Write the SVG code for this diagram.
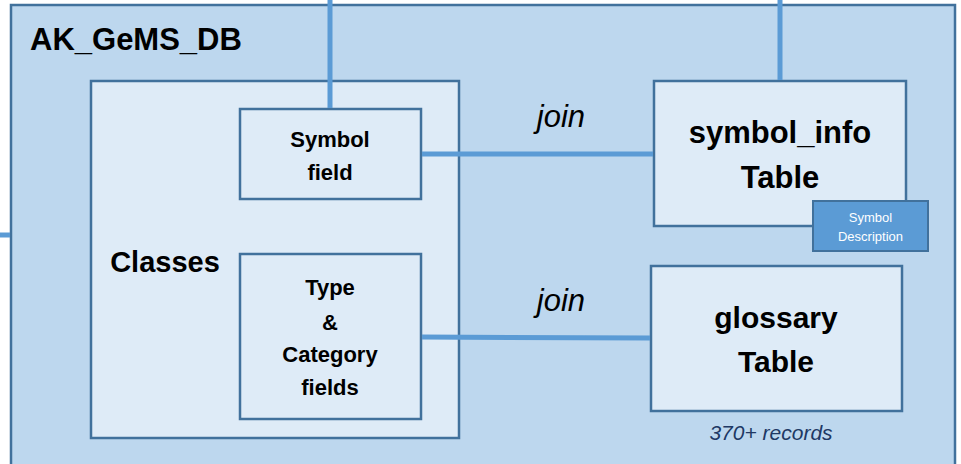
<svg xmlns="http://www.w3.org/2000/svg" width="961" height="464" viewBox="0 0 961 464">
<style>
.box{fill:#DEEBF7;stroke:#41719C;stroke-width:2.5}
.con{stroke:#5B9BD5;stroke-width:5;fill:none}
.b{font-family:"Liberation Sans",Arial,sans-serif;font-weight:bold;fill:#000;text-anchor:middle}
.i{font-family:"Liberation Sans",Arial,sans-serif;font-style:italic;text-anchor:middle}
</style>
<rect width="961" height="464" fill="#FFFFFF"/>
<g id="db">
<rect x="11" y="5" width="944" height="480" fill="#BDD7EE" stroke="#41719C" stroke-width="2.5"/>
<text x="30" y="50" class="b" style="text-anchor:start" font-size="31">AK_GeMS_DB</text>
</g>
<g id="classes">
<rect class="box" x="91" y="81" width="368" height="357"/>
<text x="165" y="272" class="b" font-size="29">Classes</text>
</g>
<g id="symbol-field">
<rect class="box" x="240" y="109" width="181" height="90"/>
<text x="330" y="147" class="b" font-size="22">Symbol</text>
<text x="330" y="180" class="b" font-size="22">field</text>
</g>
<g id="type-category">
<rect class="box" x="240" y="254" width="181" height="165"/>
<text x="330" y="295" class="b" font-size="22">Type</text>
<text x="330" y="330" class="b" font-size="22">&amp;</text>
<text x="330" y="362" class="b" font-size="22">Category</text>
<text x="330" y="395" class="b" font-size="22">fields</text>
</g>
<g id="symbol-info">
<rect class="box" x="654" y="81" width="252" height="145"/>
<text x="780" y="143" class="b" font-size="31">symbol_info</text>
<text x="780" y="188" class="b" font-size="31">Table</text>
</g>
<g id="symbol-description">
<rect x="813" y="201" width="115" height="50" fill="#5B9BD5" stroke="#41719C" stroke-width="2"/>
<text x="870.5" y="222" font-family="Liberation Sans,Arial,sans-serif" font-size="13" fill="#FFFFFF" text-anchor="middle">Symbol</text>
<text x="870.5" y="241" font-family="Liberation Sans,Arial,sans-serif" font-size="13" fill="#FFFFFF" text-anchor="middle">Description</text>
</g>
<g id="glossary">
<rect class="box" x="651" y="266" width="251" height="145"/>
<text x="776" y="328" class="b" font-size="30">glossary</text>
<text x="776" y="372" class="b" font-size="30">Table</text>
<text x="771" y="440" class="i" font-size="21" fill="#203864">370+ records</text>
</g>
<g id="connectors">
<line class="con" x1="0" y1="235" x2="10" y2="235"/>
<line class="con" x1="330" y1="0" x2="330" y2="108"/>
<line class="con" x1="780" y1="0" x2="780" y2="80"/>
<line class="con" x1="422" y1="154" x2="653" y2="154"/>
<line class="con" x1="422" y1="337" x2="650" y2="338"/>
<text x="561" y="127" class="i" font-size="31" fill="#000">join</text>
<text x="561" y="311" class="i" font-size="31" fill="#000">join</text>
</g>
</svg>
